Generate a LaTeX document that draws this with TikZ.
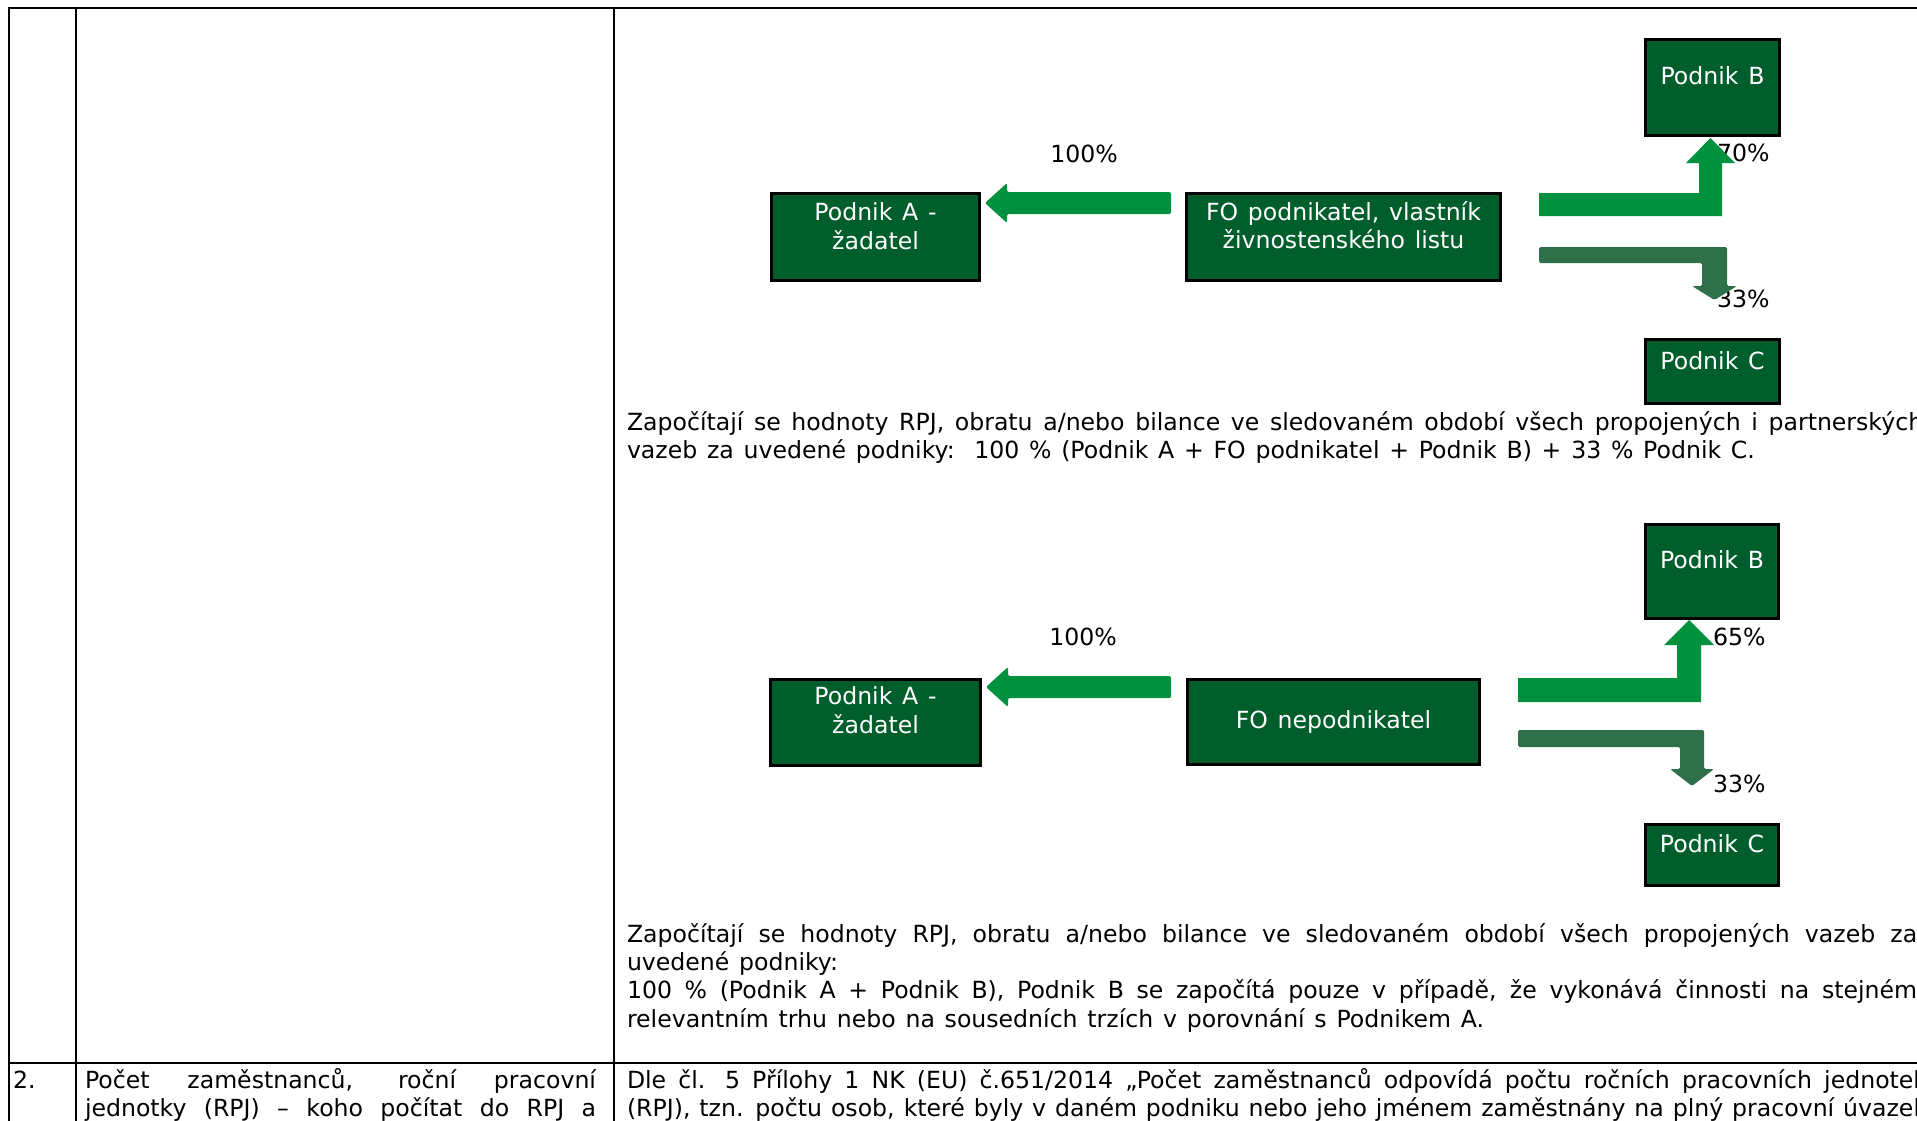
\documentclass[tikz,border=0pt]{standalone}
\usepackage{fontspec}
\setmainfont[WordSpace=1.3]{DejaVu Sans}
\definecolor{boxgreen}{HTML}{005E2C}
\definecolor{arrowgreen}{HTML}{00913F}
\definecolor{arrowdark}{HTML}{2E7049}
\begin{document}
\begin{tikzpicture}[x=1pt,y=-1pt,
  every node/.style={inner sep=0pt, outer sep=0pt, font=\fontsize{23.6}{29}\selectfont},
  box/.style={draw=black, line width=3pt, fill=boxgreen, anchor=north west, rectangle},
  wtext/.style={text=white, anchor=base},
  ctext/.style={text=black, anchor=base},
  ltext/.style={text=black, anchor=base west},
  tline/.style={draw=black, line width=2pt},
  barrow/.style={fill=arrowgreen, draw=none},
  darrow/.style={fill=arrowdark, draw=none, rounded corners=1.5pt}]
\useasboundingbox (0,0) rectangle (1917,1120);
\clip (0,0) rectangle (1917,1120);
\fill[white] (0,0) rectangle (1917,1120);

% table
\coordinate (tl) at (9,8);
\coordinate (tr) at (1925,8);
\coordinate (ml) at (9,1063);
\coordinate (mr) at (1925,1063);
\draw[tline] (8,8) -- (tr);
\draw[tline] (9,7) -- (9,1125);
\draw[tline] (76,7) -- (76,1125);
\draw[tline] (614,7) -- (614,1125);
\draw[tline] (ml) -- (mr);

% ---------- diagram 1 ----------
\node[box, minimum width=208pt, minimum height=87pt] (A1) at (771.5,193.5) {};
\node[box, minimum width=314pt, minimum height=87pt] (F1) at (1186.5,193.5) {};
\node[box, minimum width=134pt, minimum height=96pt] (B1) at (1645.5,39.5) {};
\node[box, minimum width=134pt, minimum height=64pt] (C1) at (1645.5,339.5) {};
\node[wtext] (A1a) at (875.5,220) {Podnik A -};
\node[wtext] (A1b) at (875.5,249) {žadatel};
\node[wtext] (F1a) at (1343.5,220) {FO podnikatel, vlastník};
\node[wtext] (F1b) at (1343.5,248) {živnostenského listu};
\node[wtext] (B1t) at (1712.5,84) {Podnik B};
\node[wtext] (C1t) at (1712.5,369) {Podnik C};
\node[ctext] (L1a) at (1084,162) {100\%};
\node[ltext] (L1b) at (1717,161) {70\%};
\node[ltext] (L1c) at (1717,307) {33\%};

\fill[barrow, rounded corners=2pt] (1171,192) -- (1007,192) -- (1007,183) -- (985,203) -- (1007,223) -- (1007,214) -- (1171,214) -- cycle;
\fill[barrow] (1539,193) -- (1699,193) -- (1699,163) -- (1686,163) -- (1710.5,138) -- (1735,163) -- (1722,163) -- (1722,216) -- (1539,216) -- cycle;
\fill[darrow] (1539,247) -- (1727,247) -- (1727,286) -- (1737,286) -- (1714.5,300) -- (1692,286) -- (1702,286) -- (1702,263) -- (1539,263) -- cycle;

% paragraph 1
\node[ltext] (P1a) at (627,430) {\makebox[1296pt][s]{Započítají se hodnoty RPJ, obratu a/nebo bilance ve sledovaném období všech propojených i partnerských}};
\node[ltext] (P1b) at (627,458) {vazeb za uvedené podniky:\ \ 100 \% (Podnik A + FO podnikatel + Podnik B) + 33 \% Podnik C.};

% ---------- diagram 2 ----------
\node[box, minimum width=210pt, minimum height=86pt] (A2) at (770.5,679.5) {};
\node[box, minimum width=292pt, minimum height=85pt] (F2) at (1187.5,679.5) {};
\node[box, minimum width=133pt, minimum height=94pt] (B2) at (1645.5,524.5) {};
\node[box, minimum width=133pt, minimum height=61pt] (C2) at (1645.5,824.5) {};
\node[wtext] (A2a) at (875.5,704) {Podnik A -};
\node[wtext] (A2b) at (875.5,733) {žadatel};
\node[wtext] (F2t) at (1333.5,728) {FO nepodnikatel};
\node[wtext] (B2t) at (1712,568) {Podnik B};
\node[wtext] (C2t) at (1712,852) {Podnik C};
\node[ctext] (L2a) at (1083,645) {100\%};
\node[ltext] (L2b) at (1713,645) {65\%};
\node[ltext] (L2c) at (1713,792) {33\%};

\fill[barrow, rounded corners=2pt] (1171,676) -- (1008,676) -- (1008,667) -- (986,687) -- (1008,707) -- (1008,698) -- (1171,698) -- cycle;
\fill[barrow] (1518,678) -- (1677,678) -- (1677,645) -- (1664,645) -- (1689,620) -- (1714,645) -- (1701,645) -- (1701,702) -- (1518,702) -- cycle;
\fill[darrow] (1518,730) -- (1704,730) -- (1704,769) -- (1714,769) -- (1692,786) -- (1670,769) -- (1680,769) -- (1680,747) -- (1518,747) -- cycle;

% paragraph 2
\node[ltext] (P2a) at (627,942) {\makebox[1290pt][s]{Započítají se hodnoty RPJ, obratu a/nebo bilance ve sledovaném období všech propojených vazeb za}};
\node[ltext] (P2b) at (627,970) {uvedené podniky:};
\node[ltext] (P2c) at (627,998) {\makebox[1290pt][s]{100 \% (Podnik A + Podnik B), Podnik B se započítá pouze v případě, že vykonává činnosti na stejném}};
\node[ltext] (P2d) at (627,1027) {relevantním trhu nebo na sousedních trzích v porovnání s Podnikem A.};

% ---------- row 2 ----------
\node[ltext] (N2) at (13,1088) {2.};
\node[ltext] (R2a) at (85,1088) {\makebox[511pt][s]{Počet zaměstnanců, roční pracovní}};
\node[ltext] (R2b) at (85,1116) {\makebox[511pt][s]{jednotky (RPJ) – koho počítat do RPJ a}};
\node[ltext] (R3a) at (627,1088) {\makebox[1300pt][s]{Dle čl. 5 Přílohy 1 NK (EU) č.651/2014 „Počet zaměstnanců odpovídá počtu ročních pracovních jednotek}};
\node[ltext] (R3b) at (627,1116) {\makebox[1300pt][s]{(RPJ), tzn. počtu osob, které byly v daném podniku nebo jeho jménem zaměstnány na plný pracovní úvazek}};
\end{tikzpicture}
\end{document}
